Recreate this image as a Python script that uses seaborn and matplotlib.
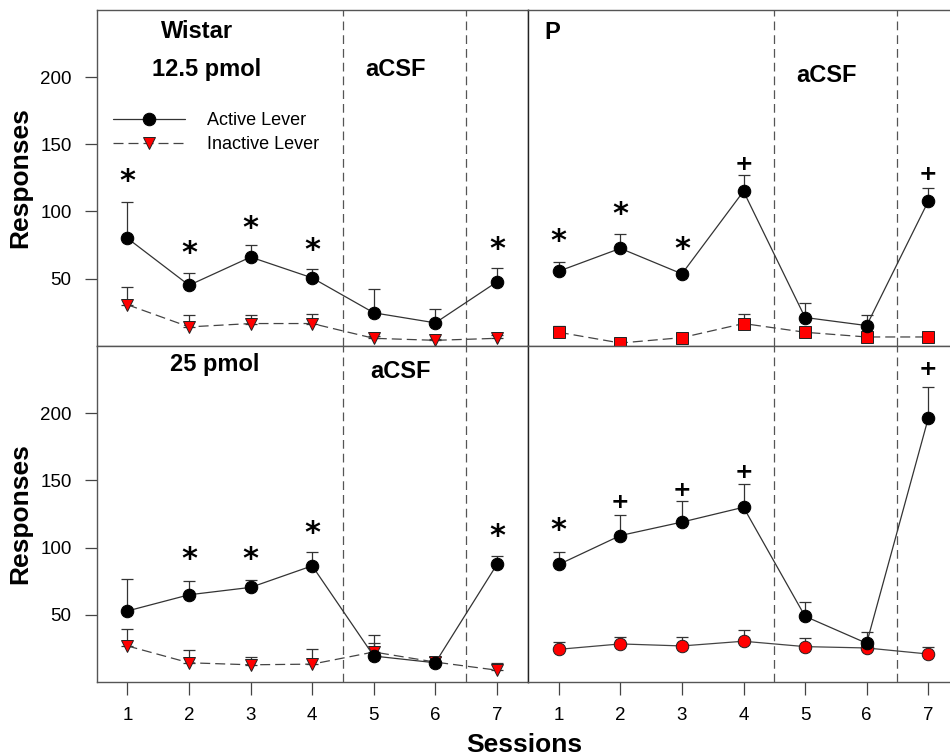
import numpy as np
import pandas as pd
import seaborn as sns
import matplotlib.pyplot as plt

sns.set_style("white")
plt.rcParams['font.family'] = ['Liberation Sans', 'DejaVu Sans']
plt.rcParams['text.color'] = 'black'
plt.rcParams['axes.labelcolor'] = 'black'
plt.rcParams['xtick.color'] = 'black'
plt.rcParams['ytick.color'] = 'black'

sessions = [1, 2, 3, 4, 5, 6, 7]

# Wistar, 12.5 pmol
w125_active = [80, 45, 66, 50.5, 24.5, 17, 47.5]
w125_active_err = [27, 9, 9, 6.5, 18, 10.5, 10]
w125_inactive = [30.5, 14, 16.5, 16.5, 5.5, 4, 5.5]
w125_inactive_err = [13, 8.5, 6, 7, 1.5, 1, 2.5]

# P, 12.5 pmol
p125_active = [55.5, 72.5, 53.5, 115, 21, 15, 107.5]
p125_active_err = [7, 10.5, 2, 12, 10.5, 8, 10]
p125_inactive = [10, 2, 6, 16.5, 10, 6.5, 6.5]
p125_inactive_err = [5, 0, 3.5, 7, 0, 0, 0]

# Wistar, 25 pmol
w25_active = [53, 65, 70.5, 86.5, 19.5, 14.5, 87.5]
w25_active_err = [24, 10, 5.5, 10, 9.5, 4.5, 6]
w25_inactive = [27, 14.5, 13, 13.5, 22.5, 15, 9]
w25_inactive_err = [12.5, 9.5, 5.5, 11, 12.5, 4, 5]

# P, 25 pmol
p25_active = [87.5, 109, 119, 130, 49, 29, 196]
p25_active_err = [9, 15, 15.5, 17.5, 11, 8, 23]
p25_inactive = [24.5, 28.5, 27, 30.5, 26.5, 25.5, 21]
p25_inactive_err = [5.5, 5.5, 6.5, 8, 6.5, 0, 5]

# significance marks: (session, height, symbol)
w125_marks = [(1, 122, '*'), (2, 69, '*'), (3, 87.5, '*'), (4, 71, '*'), (7, 72, '*')]
p125_marks = [(1, 77.5, '*'), (2, 97.5, '*'), (3, 72, '*'), (4, 135, '+'), (7, 128, '+')]
w25_marks = [(2, 91, '*'), (3, 91, '*'), (4, 110.5, '*'), (7, 108.5, '*')]
p25_marks = [(1, 113, '*'), (2, 134, '+'), (3, 143, '+'), (4, 156, '+'), (7, 233, '+')]

fig = plt.figure(figsize=(9.5, 7.56), dpi=100)
W = 431 / 950
ax_tl = fig.add_axes([96.7 / 950, 1 - 345.7 / 756, W, 335.7 / 756])
ax_tr = fig.add_axes([528 / 950, 1 - 345.7 / 756, W, 335.7 / 756])
ax_bl = fig.add_axes([96.7 / 950, 1 - 682.3 / 756, W, 336.6 / 756])
ax_br = fig.add_axes([528 / 950, 1 - 682.3 / 756, W, 336.6 / 756])


def draw_panel(ax, act, act_err, ina, ina_err, marks, ina_marker, ina_dash, ina_size):
    df = pd.DataFrame({'Session': sessions, 'Active': act, 'Inactive': ina})
    ax.errorbar(sessions, ina, yerr=[np.zeros(7), ina_err], fmt='none',
                ecolor='#333333', elinewidth=0.9, capsize=4, capthick=0.9, zorder=2)
    ax.errorbar(sessions, act, yerr=[np.zeros(7), act_err], fmt='none',
                ecolor='#333333', elinewidth=0.9, capsize=4, capthick=0.9, zorder=2)
    ls = (0, (8, 4)) if ina_dash else '-'
    sns.lineplot(data=df, x='Session', y='Inactive', ax=ax, color='#444444', lw=0.9,
                 linestyle=ls, marker=ina_marker, markersize=ina_size,
                 markerfacecolor='#ff0000', markeredgecolor='#222222',
                 markeredgewidth=0.7, label='Inactive Lever', zorder=3)
    sns.lineplot(data=df, x='Session', y='Active', ax=ax, color='#333333', lw=0.9,
                 marker='o', markersize=9, markerfacecolor='black',
                 markeredgecolor='black', label='Active Lever', zorder=4)
    for s, h, sym in marks:
        if sym == '*':
            ax.text(s, h, '*', ha='center', va='center', fontsize=22,
                    fontweight='bold', family='DejaVu Sans')
        else:
            ax.text(s, h, '+', ha='center', va='center', fontsize=16,
                    fontweight='bold', family='DejaVu Sans')
    ax.set_xlim(0.5, 7.5)
    ax.set_ylim(0, 250)
    ax.set_xlabel('')
    ax.set_ylabel('')
    ax.axvline(4.5, color='#555555', lw=0.9, ls=(0, (7, 4)))
    ax.axvline(6.5, color='#555555', lw=0.9, ls=(0, (7, 4)))
    for sp in ax.spines.values():
        sp.set_color('#555555')
        sp.set_linewidth(1.0)


draw_panel(ax_tl, w125_active, w125_active_err, w125_inactive, w125_inactive_err,
           w125_marks, 'v', True, 9)
draw_panel(ax_tr, p125_active, p125_active_err, p125_inactive, p125_inactive_err,
           p125_marks, 's', True, 8)
draw_panel(ax_bl, w25_active, w25_active_err, w25_inactive, w25_inactive_err,
           w25_marks, 'v', True, 9)
draw_panel(ax_br, p25_active, p25_active_err, p25_inactive, p25_inactive_err,
           p25_marks, 'o', False, 9)

for ax in [ax_tl, ax_bl]:
    ax.set_yticks([50, 100, 150, 200])
    ax.tick_params(axis='y', direction='out', length=9, width=0.9, left=True,
                   labelsize=13.5, pad=9, color='#444444')
    ax.set_ylabel('Responses', fontsize=19, fontweight='bold')
    ax.yaxis.set_label_coords(-0.150, 0.5)
for ax in [ax_tr, ax_br]:
    ax.set_yticks([])
    ax.spines['left'].set_color('#222222')
for ax in [ax_tl, ax_tr]:
    ax.set_xticks([])
for ax in [ax_bl, ax_br]:
    ax.set_xticks(sessions)
    ax.tick_params(axis='x', direction='out', length=9, width=0.9, bottom=True,
                   labelsize=13.5, pad=9, color='#444444')

# legend only in the first panel
ax_tl.legend(handles=ax_tl.get_legend_handles_labels()[0][::-1],
             labels=['Active Lever', 'Inactive Lever'], loc='upper left',
             bbox_to_anchor=(0.0, 0.745), frameon=False, fontsize=13,
             handlelength=4.0, handletextpad=1.2, labelspacing=0.4)
for ax in [ax_tr, ax_bl, ax_br]:
    ax.get_legend().remove()

ax_tl.text(2.13, 234, 'Wistar', ha='center', va='center', fontsize=17, fontweight='bold')
ax_tl.text(2.28, 206, '12.5 pmol', ha='center', va='center', fontsize=17, fontweight='bold')
ax_tl.text(5.36, 206, 'aCSF', ha='center', va='center', fontsize=17, fontweight='bold')
ax_tr.text(0.9, 233, 'P', ha='center', va='center', fontsize=17, fontweight='bold')
ax_tr.text(5.34, 201, 'aCSF', ha='center', va='center', fontsize=17, fontweight='bold')
ax_bl.text(2.42, 236, '25 pmol', ha='center', va='center', fontsize=17, fontweight='bold')
ax_bl.text(5.44, 231, 'aCSF', ha='center', va='center', fontsize=17, fontweight='bold')

fig.text(524.5 / 950, 1 - 751.5 / 756, 'Sessions', ha='center', va='baseline',
         fontsize=19, fontweight='bold')

fig.savefig('out.png', dpi=100)
